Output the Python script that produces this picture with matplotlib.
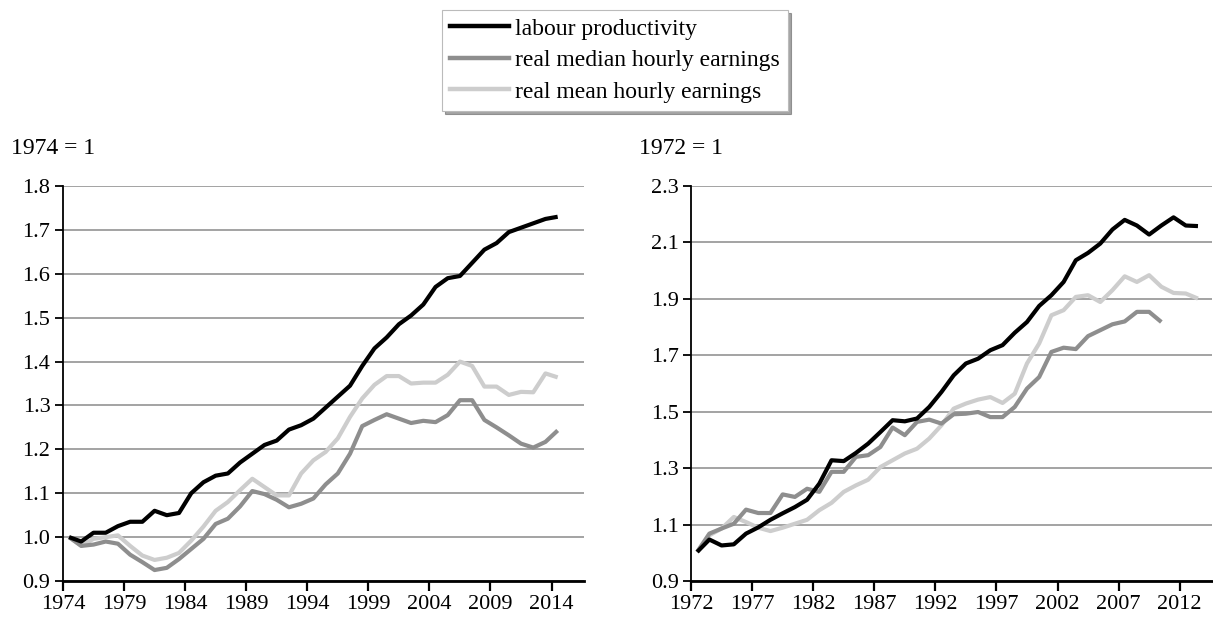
import numpy as np
import matplotlib
import matplotlib.pyplot as plt
matplotlib.use('agg')

# left panel, 1974 = 1
left_years = list(range(1974, 2015))
left_prod = [1.00, 0.99, 1.01, 1.01, 1.025, 1.035, 1.035, 1.06, 1.05, 1.055,
             1.10, 1.125, 1.14, 1.145, 1.17, 1.19, 1.21, 1.22, 1.245, 1.255,
             1.27, 1.295, 1.32, 1.345, 1.39, 1.43, 1.455, 1.485, 1.505, 1.53,
             1.57, 1.59, 1.595, 1.625, 1.655, 1.67, 1.695, 1.705, 1.715, 1.725,
             1.73]
left_median = [1.00, 0.98, 0.983, 0.99, 0.985, 0.96, 0.943, 0.925, 0.93, 0.95,
               0.973, 0.996, 1.03, 1.042, 1.07, 1.105, 1.098, 1.085, 1.068, 1.076,
               1.088, 1.12, 1.145, 1.19, 1.253, 1.267, 1.28, 1.27, 1.26, 1.265,
               1.262, 1.278, 1.312, 1.312, 1.267, 1.25, 1.232, 1.213, 1.204, 1.217,
               1.243]
left_mean = [1.00, 0.98, 0.996, 1.0, 1.004, 0.98, 0.958, 0.948, 0.953, 0.964,
             0.992, 1.024, 1.06, 1.08, 1.107, 1.133, 1.114, 1.095, 1.095, 1.145,
             1.175, 1.194, 1.225, 1.274, 1.316, 1.347, 1.367, 1.367, 1.35, 1.352,
             1.352, 1.37, 1.40, 1.39, 1.343, 1.343, 1.324, 1.331, 1.33, 1.373,
             1.364]

# right panel, 1972 = 1
right_years = list(range(1972, 2014))
right_prod = [1.003, 1.047, 1.026, 1.03, 1.068, 1.09, 1.117, 1.14, 1.162, 1.188,
              1.245, 1.328, 1.325, 1.354, 1.387, 1.428, 1.47, 1.466, 1.476, 1.517,
              1.57, 1.629, 1.671, 1.688, 1.718, 1.736, 1.78, 1.818, 1.875, 1.913,
              1.96, 2.037, 2.063, 2.096, 2.146, 2.18, 2.16, 2.128, 2.16, 2.189,
              2.16, 2.158]
right_median_years = list(range(1972, 2011))
right_median = [1.003, 1.068, 1.086, 1.103, 1.153, 1.141, 1.141, 1.207, 1.198, 1.227,
                1.216, 1.287, 1.287, 1.34, 1.346, 1.375, 1.444, 1.417, 1.464, 1.472,
                1.458, 1.491, 1.493, 1.499, 1.481, 1.481, 1.517, 1.582, 1.623, 1.712,
                1.727, 1.722, 1.768, 1.789, 1.81, 1.82, 1.854, 1.854, 1.818]
right_mean = [1.003, 1.062, 1.086, 1.127, 1.109, 1.089, 1.077, 1.089, 1.103, 1.117,
              1.151, 1.177, 1.216, 1.239, 1.259, 1.304, 1.328, 1.352, 1.369, 1.405,
              1.452, 1.511, 1.529, 1.543, 1.552, 1.531, 1.564, 1.671, 1.742, 1.842,
              1.86, 1.907, 1.913, 1.889, 1.931, 1.98, 1.96, 1.984, 1.943, 1.921,
              1.919, 1.901]

labels = ['labour productivity', 'real median hourly earnings',
          'real mean hourly earnings']
colors = ['black', '#8e8e8e', '#cdcdcd']

plt.rcParams['font.family'] = ['Liberation Serif', 'DejaVu Serif']


def style_axis(ax, x0, yticks, title):
    ax.set_xlim(x0, x0 + 42.65)
    ax.set_ylim(yticks[0], yticks[-1])
    ax.set_xticks(range(x0, x0 + 41, 5))
    ax.set_xticklabels([str(y) for y in range(x0, x0 + 41, 5)])
    ax.set_yticks(yticks)
    ax.set_yticklabels(['{:.1f}'.format(v) for v in yticks])
    ax.yaxis.grid(True, color='#a3a3a3', linewidth=1.4)
    ax.set_axisbelow(True)
    ax.spines['top'].set_visible(False)
    ax.spines['right'].set_visible(False)
    ax.spines['left'].set_linewidth(1.3)
    ax.spines['bottom'].set_linewidth(2)
    ax.tick_params(axis='x', length=7, width=1.6, labelsize=16, pad=3)
    ax.tick_params(axis='y', length=6, width=1.3, labelsize=16, pad=3)
    ax.text(-0.1, 1.095, title, transform=ax.transAxes, fontsize=17,
            ha='left', va='center')


fig = plt.figure(figsize=(12.13, 6.23), dpi=100)
ax1 = fig.add_axes([0.0519, 0.0674, 0.4295, 0.634])
ax2 = fig.add_axes([0.5697, 0.0674, 0.4295, 0.634])

lx = np.array(left_years) + 0.5
ax1.plot(lx, left_mean, color=colors[2], lw=3, solid_capstyle='butt')
ax1.plot(lx, left_median, color=colors[1], lw=3, solid_capstyle='butt')
ax1.plot(lx, left_prod, color=colors[0], lw=3, solid_capstyle='butt')
style_axis(ax1, 1974, [0.9 + 0.1 * i for i in range(10)], '1974 = 1')

rx = np.array(right_years) + 0.5
ax2.plot(rx, right_mean, color=colors[2], lw=3, solid_capstyle='butt')
ax2.plot(np.array(right_median_years) + 0.5, right_median, color=colors[1],
         lw=3, solid_capstyle='butt')
ax2.plot(rx, right_prod, color=colors[0], lw=3, solid_capstyle='butt')
style_axis(ax2, 1972, [0.9 + 0.2 * i for i in range(8)], '1972 = 1')

handles = [plt.Line2D([], [], color=c, lw=3.2) for c in colors]
leg = fig.legend(handles, labels, loc='upper center',
                 bbox_to_anchor=(0.507, 0.984), borderaxespad=0,
                 fontsize=17, frameon=True, fancybox=False, shadow=True,
                 handlelength=2.5, handletextpad=0.25, labelspacing=0.42,
                 borderpad=0.35)
leg.get_frame().set_edgecolor('#bbbbbb')
leg.get_frame().set_linewidth(0.8)

plt.savefig('out.png', dpi=100)
plt.close(fig)
